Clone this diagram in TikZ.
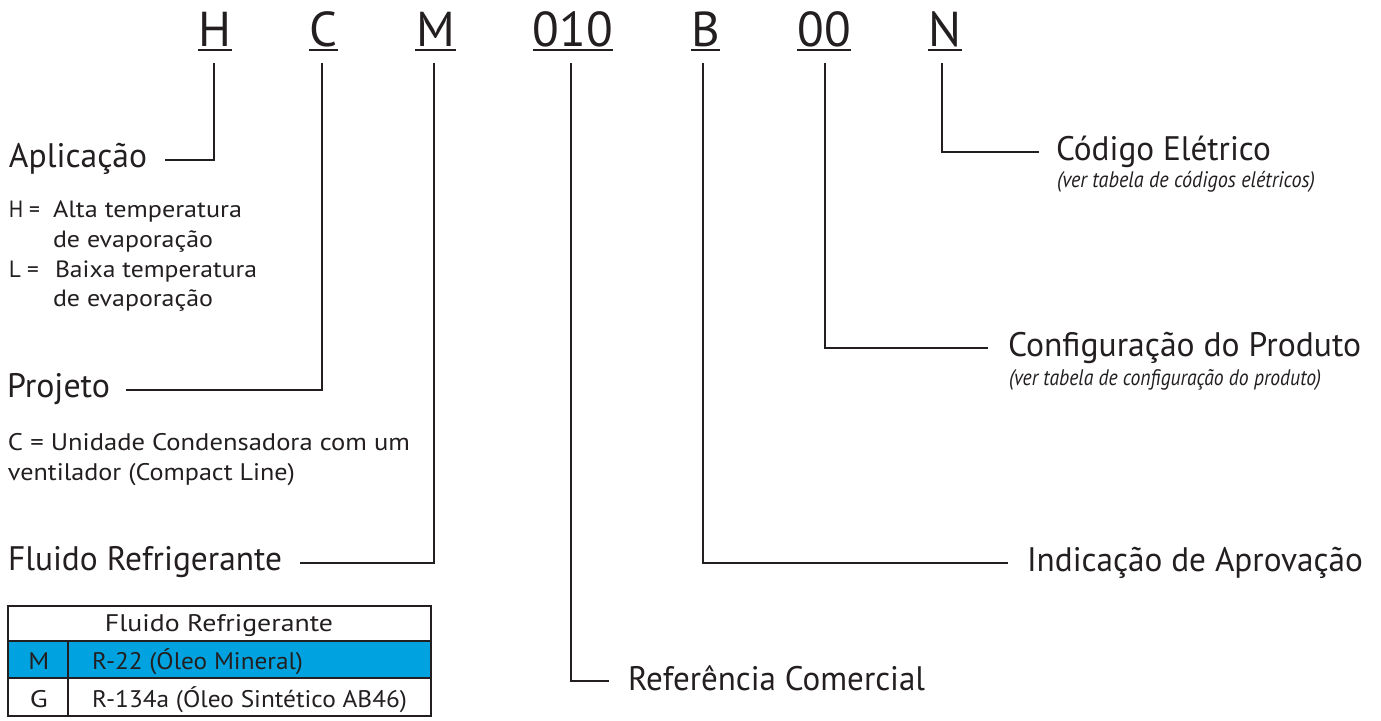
\documentclass[tikz,border=0pt]{standalone}
\usepackage{fontspec}
\setmainfont{PT Sans}
\usepackage{graphicx}
\definecolor{ink}{HTML}{231F20}
\definecolor{cyanrow}{HTML}{00A3E0}
\newcommand{\fw}[2]{\resizebox{#1pt}{\height}{#2}}
\begin{document}
\begin{tikzpicture}[x=1pt,y=-1pt,
  every node/.style={inner sep=0pt, outer sep=0pt, text=ink},
  ltr/.style={font=\fontsize{49}{49}\selectfont, anchor=base},
  lbl/.style={font=\fontsize{34}{34}\selectfont, anchor=base west},
  subt/.style={font=\fontsize{23.5}{23.5}\selectfont, anchor=base west},
  subc/.style={font=\fontsize{24}{24}\selectfont, anchor=base west},
  notet/.style={font=\fontsize{22.5}{22.5}\selectfont\itshape, anchor=base west},
  tabt/.style={font=\fontsize{24}{24}\selectfont, anchor=base},
  conn/.style={draw=ink, line width=2.2pt},
  uline/.style={draw=ink, line width=2pt}]
\useasboundingbox (0,0) rectangle (1381,720);
\fill[white] (0,0) rectangle (1381,720);

% code letters
\node[ltr] (cH) at (215,46) {H};
\node[ltr] (cC) at (323.5,46) {C};
\node[ltr] (cM) at (435.5,46) {M};
\node[ltr] (cR) at (573,46) {010};
\node[ltr] (cB) at (705.5,46) {B};
\node[ltr] (cO) at (824,46) {00};
\node[ltr] (cN) at (945,46) {N};
\draw[uline] (198,50) -- (232,50);
\draw[uline] (309,50) -- (338,50);
\draw[uline] (415,50) -- (456,50);
\draw[uline] (533,50) -- (613,50);
\draw[uline] (691,50) -- (720,50);
\draw[uline] (797,50) -- (851,50);
\draw[uline] (928,50) -- (962,50);

% left labels
\node[lbl] (apl) at (9,167) {\fw{138}{Aplicação}};
\node[subt] (hk) at (9,217) {\fw{31}{H =}};
\node[subt] (hv) at (53,217) {\fw{189}{Alta temperatura}};
\node[subt] (hv2) at (53,247) {\fw{160}{de evaporação}};
\node[subt] (lk) at (9,277) {\fw{30}{L =}};
\node[subt] (lv) at (55,277) {\fw{202}{Baixa temperatura}};
\node[subt] (lv2) at (53,306) {\fw{160}{de evaporação}};

\node[lbl] (prj) at (7,397) {\fw{103}{Projeto}};
\node[subc] (cv) at (8,450) {\fw{402}{C = Unidade Condensadora com um}};
\node[subc] (cv2) at (8,480) {\fw{287}{ventilador (Compact Line)}};

\node[lbl] (flu) at (8,570) {\fw{274}{Fluido Refrigerante}};

% right labels
\node[lbl] (cod) at (1056,160) {\fw{215}{Código Elétrico}};
\node[notet] (codn) at (1057,187) {\fw{258}{(ver tabela de códigos elétricos)}};
\node[lbl] (cfg) at (1008,356) {\fw{353}{Configuração do Produto}};
\node[notet] (cfgn) at (1009,385) {\fw{312}{(ver tabela de configuração do produto)}};
\node[lbl] (ind) at (1027,571) {\fw{336}{Indicação de Aprovação}};
\node[lbl] (ref) at (628,690) {\fw{297}{Referência Comercial}};

% connectors
\coordinate (tH) at (214,63);  \coordinate (eH) at (165,160);
\coordinate (tC) at (322,63);  \coordinate (eC) at (126,390);
\coordinate (tM) at (434,63);  \coordinate (eM) at (300,563);
\coordinate (tR) at (571,63);  \coordinate (eR) at (609,681);
\coordinate (tB) at (703,63);  \coordinate (eB) at (1008,563);
\coordinate (tO) at (825,63);  \coordinate (eO) at (988,348);
\coordinate (tN) at (942,63);  \coordinate (eN) at (1039,152);
\draw[conn] (tH) |- (eH);
\draw[conn] (tC) |- (eC);
\draw[conn] (tM) |- (eM);
\draw[conn] (tR) |- (eR);
\draw[conn] (tB) |- (eB);
\draw[conn] (tO) |- (eO);
\draw[conn] (tN) |- (eN);

% table
\fill[cyanrow] (8,641) rectangle (431,678);
\draw[ink, line width=1.5pt] (8,641) -- (431,641);
\draw[ink, line width=1.5pt] (8,678) -- (431,678);
\draw[ink, line width=1.5pt] (68,641) -- (68,716);
\draw[ink, line width=2pt] (8,606) rectangle (431,716);
\node[tabt] (th) at (219,631) {\fw{228}{Fluido Refrigerante}};
\node[tabt] (tm) at (39,669) {\fw{21}{M}};
\node[tabt] (tg) at (39,707) {\fw{18}{G}};
\node[tabt, anchor=base west] (tmv) at (92,669) {\fw{211}{R-22 (Óleo Mineral)}};
\node[tabt, anchor=base west] (tgv) at (92,707) {\fw{315}{R-134a (Óleo Sintético AB46)}};
\end{tikzpicture}
\end{document}
